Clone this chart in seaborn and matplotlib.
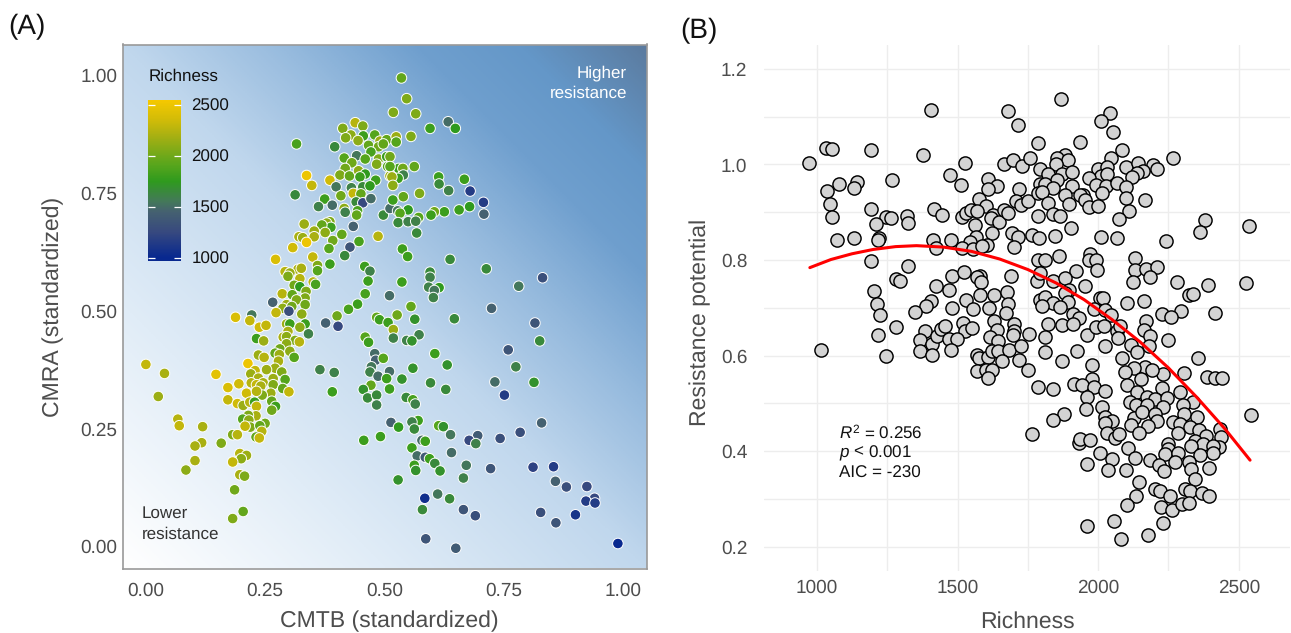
"""Two panel figure: resistance space coloured by richness, and resistance vs richness."""
import matplotlib
matplotlib.use("Agg")
import matplotlib.pyplot as plt
import seaborn as sns
import numpy as np
import pandas as pd
from matplotlib.colors import LinearSegmentedColormap, Normalize
from matplotlib.cm import ScalarMappable
from matplotlib.ticker import MultipleLocator

# panel A, values
cmtb = [
    .439, .455, .413, .430, .419, .456, .480, .445, .491, .505, .316, .396, .467, .488, .498, .472, .442, .416, .460, .488,
    .505, .432, .484, .507, .418, .407, .427, .446, .460, .449, .337, .386, .348, .399, .431, .455, .482, .512, .470, .313,
    .435, .451, .409, .375, .362, .391, .441, .455, .472, .416, .418, .444, .442, .498, .512, .386, .332, .379, .388, .369,
    .435, .353, .376, .411, .321, .329, .353, .487, .392, .447, .337, .308, .384, .428, .417, .272, .350, .386, .360, .360,
    .459, .470, .292, .319, .326, .302, .298, .323, .466, .351, .356, .311, .323, .336, .460, .286, .307, .334, .511, .444,
    .266, .316, .295, .287, .306, .334, .425,
    .188, .222, .218, .273, .300, .327, .238, .252, .295, .302, .334, .323, .341, .298, .377, .401, .403, .232, .247, .288,
    .295, .313, .322, .295, .281, .302, .271, .236, .248, .311, .280, .278, .214, .271, .253, .229, .220, .285, .267, .292,
    .236, .221, .195, .246, .267, .172, .232, .241, .287, .300, .211, .262, .244, .232, .172, .192, .204, .218, .228, .232,
    .264, .272, .264, .250, .231, .215, .203, .216, .219, .208, .239, .243, .182, .192, .231, .238, .147, .039, .000, .026,
    .067, .070, .119, .117, .103, .158, .103, .084, .197, .211, .200, .182, .197, .207, .186, .204, .182, .365, .395, .391,
    .484, .490, .508, .460, .467, .480, .482, .498, .473, .470, .511, .487, .505, .472, .456, .511, .465, .484, .484, .514,
    .492, .457,
    .536, .547, .519, .566, .596, .634, .649, .525, .556, .525, .512, .563, .530, .539, .512, .540, .529, .516, .518, .614,
    .668, .615, .635, .680, .574, .540, .518, .708, .709, .679, .657, .626, .605, .598, .572, .550, .528, .533, .529, .550,
    .566, .568, .538, .549, .638, .714, .596, .596, .537, .593, .615, .605, .603, .782, .832, .556, .725,
    .527, .564, .647, .816, .519, .519, .573, .547, .558, .826, .760, .606, .632, .776, .560, .537, .597, .629, .732, .814,
    .752, .546, .560, .565, .571, .558, .530, .563, .614, .624, .639, .830, .696, .678, .692, .743, .785, .579, .586, .558,
    .641, .569, .586, .595, .606, .672, .723, .812, .855, .563, .566, .617, .666, .529, .859, .882, .925, .585, .612, .637,
    .941, .923, .942, .580, .666, .691, .828, .901, .860, .587, .650, .990,
]
cmra = [
    .899, .892, .887, .873, .867, .871, .873, .861, .860, .863, .854, .848, .851, .848, .854, .837, .829, .824, .822, .822,
    .827, .814, .811, .806, .802, .788, .786, .797, .790, .784, .787, .777, .766, .763, .761, .763, .777, .786, .765, .746,
    .749, .748, .744, .737, .721, .724, .731, .729, .738, .717, .709, .712, .703, .703, .717, .689, .684, .686, .677, .682,
    .679, .669, .666, .662, .657, .655, .657, .658, .649, .647, .645, .634, .632, .635, .617, .609, .614, .599, .596, .585,
    .594, .584, .583, .588, .590, .580, .573, .568, .563, .561, .556, .554, .551, .541, .536, .536, .534, .527, .532, .514,
    .518, .523, .513, .505, .509, .513, .503,
    .486, .491, .479, .496, .499, .493, .465, .469, .472, .472, .472, .465, .451, .456, .474, .489, .467, .441, .436, .444,
    .445, .437, .434, .430, .419, .414, .410, .406, .401, .401, .407, .393, .388, .378, .375, .373, .366, .370, .356, .354,
    .357, .347, .345, .347, .343, .337, .343, .340, .335, .328, .325, .325, .321, .329, .311, .303, .299, .306, .306, .297,
    .308, .297, .289, .261, .277, .278, .270, .268, .253, .255, .256, .244, .237, .237, .232, .230, .365, .367, .386, .318,
    .270, .256, .254, .220, .213, .219, .182, .162, .197, .193, .186, .179, .152, .149, .120, .074, .059, .375, .369, .328,
    .486, .481, .475, .444, .433, .409, .395, .399, .381, .370, .371, .361, .356, .342, .333, .334, .315, .321, .300, .263,
    .233, .225,
    .994, .950, .921, .918, .887, .901, .887, .869, .870, .858, .827, .806, .802, .802, .806, .788, .781, .784, .766, .784,
    .779, .769, .755, .754, .749, .742, .735, .730, .705, .721, .714, .710, .710, .703, .698, .714, .712, .707, .687, .689,
    .690, .665, .631, .615, .609, .589, .582, .571, .561, .550, .549, .543, .528, .552, .570, .509, .505,
    .491, .482, .483, .474, .460, .442, .449, .437, .436, .436, .417, .409, .385, .381, .378, .355, .347, .333, .349, .348,
    .321, .316, .311, .302, .267, .264, .253, .249, .256, .254, .237, .262, .235, .225, .218, .229, .242, .225, .223, .209,
    .199, .192, .189, .186, .176, .172, .165, .168, .169, .172, .161, .160, .145, .141, .138, .126, .127, .102, .111, .101,
    .102, .096, .092, .078, .078, .065, .072, .067, .050, .016, -.004, .006,
]
richness_a = [
    2250, 2050, 2050, 2100, 2050, 1800, 1900, 2100, 2150, 1950, 1850, 1650, 1950, 2000, 1950, 1850, 1550, 1900, 1900, 2050,
    1800, 2000, 2050, 1900, 2000, 2050, 1950, 2100, 1750, 1800, 2500, 2350, 2300, 1550, 1600, 1650, 1800, 2150, 1750, 1650,
    2300, 1950, 2000, 1800, 1600, 1500, 1650, 1250, 1500, 2100, 1600, 1850, 1950, 1650, 1500, 2050, 2150, 2100, 1800, 1950,
    1450, 2150, 2100, 1950, 2200, 2150, 2200, 2250, 2000, 1850, 2500, 2350, 1900, 1350, 1650, 2400, 2300, 1800, 2050, 1900,
    1800, 1600, 2250, 2200, 2200, 2150, 2050, 2250, 1800, 2250, 1850, 2000, 1750, 2050, 1850, 2250, 1950, 2050, 1500, 1800,
    1450, 2050, 2150, 2100, 2000, 2000, 1850,
    2400, 1550, 2300, 2300, 1300, 2100, 2350, 2300, 2150, 1800, 1800, 2100, 1600, 2200, 1450, 2000, 1250, 1800, 2150, 2200,
    2100, 2050, 2250, 2100, 2000, 2100, 1950, 2150, 2250, 1900, 2150, 2200, 2500, 2150, 2150, 2300, 2150, 2050, 2150, 1900,
    2200, 2250, 2350, 2200, 2050, 2400, 2300, 2200, 1950, 2300, 2350, 2150, 2050, 2250, 2300, 2350, 2150, 2250, 1800, 2300,
    1950, 1800, 2000, 2000, 2200, 2050, 1900, 2100, 2050, 2300, 1950, 2250, 2050, 2250, 1950, 2300, 2450, 2200, 2300, 2150,
    2250, 2300, 2200, 2200, 2200, 2050, 2200, 2100, 2250, 2150, 2100, 2300, 2200, 2050, 2000, 1950, 2050, 1600, 1600, 1800,
    1950, 1800, 1800, 1900, 1800, 1500, 1450, 1900, 1550, 1600, 1500, 1500, 1800, 1950, 1700, 1800, 1650, 1650, 1600, 1450,
    1800, 1800,
    1950, 2050, 2050, 2050, 1800, 1500, 1750, 2150, 2050, 1900, 2000, 1950, 1800, 2000, 1900, 1600, 1800, 2150, 2100, 1800,
    1800, 1650, 1600, 1150, 2050, 1950, 1800, 1150, 1450, 1750, 1800, 1800, 2000, 1800, 1900, 1750, 1550, 1900, 1650, 1600,
    1600, 1650, 1800, 1800, 1650, 1650, 1650, 1600, 1800, 1600, 1750, 1550, 1600, 1550, 1300, 1950, 1450,
    2000, 1700, 1650, 1350, 2150, 1600, 1600, 1600, 1700, 1650, 1350, 1800, 1700, 1600, 1700, 1700, 1650, 1650, 1500, 1700,
    1150, 1650, 1850, 1600, 1800, 1600, 1750, 1650, 1900, 1700, 1550, 1450, 1400, 1250, 1600, 1300, 1300, 1500, 1800, 1800,
    1500, 1500, 1400, 1800, 1650, 1550, 1350, 1200, 1150, 1800, 1700, 1700, 1600, 1700, 1450, 1300, 1250, 1050, 1550, 1650,
    1250, 1150, 1150, 1650, 1350, 1300, 1300, 1100, 1350, 1350, 1400, 1000,
]

# panel B, values
richness_b = [
    1404, 1680, 1715, 1787, 1032, 1052, 1191, 1376, 972, 1525, 1667, 1699, 1730, 1757, 1793, 1077, 1141, 1132, 1268, 1037,
    1475, 1514, 1608, 1642, 1608, 1717, 1793, 1047, 1053, 1194, 1575, 1602, 1709, 1726, 1751, 1787, 1417, 1446, 1321, 1324,
    1245, 1263, 1209, 1515, 1529, 1547, 1571, 1625, 1619, 1646, 1666, 1679, 1563, 1787, 1694, 1715, 1763, 1790, 1622, 1565,
    1222, 1218, 1132, 1070, 1414, 1476, 1543, 1606, 1700, 1422, 1515, 1556, 1588, 1787, 1194, 1324, 1280, 1297, 1481, 1523,
    1579, 1570, 1584, 1690, 1781, 1425, 1470, 1204, 1529, 1579, 1629, 1677, 1680, 1213, 1405, 1389, 1348, 1480, 1555, 1613,
    1672, 1224, 1793, 1520, 1629, 1700,
    1283, 1216, 1386, 1365, 1411, 1427, 1440, 1456, 1526, 1550, 1468, 1499, 1641, 1700, 1698, 1755, 1615, 1645, 1365, 1408,
    1476, 1014, 1244, 1568, 1577, 1610, 1621, 1645, 1683, 1724, 1659, 1720, 1749, 1568, 1603, 1621, 1607, 1787, 1763,
    1868, 2043, 2011, 2053, 1936, 2083, 2265, 2045, 1882, 1852, 1894, 1849, 1998, 2030, 2099, 2141, 2194, 2210, 2160, 2137,
    2119, 2010, 2032, 1823, 1870, 1906, 1852, 1966, 1811, 1908, 1994, 2028, 2068, 2098, 1840, 1799, 1882, 1947, 1935, 2012,
    2099, 2167, 1953, 1897, 1823, 1968, 2000, 2111, 1840, 1866, 2074, 2381, 2537, 2362, 1903, 1846, 2010, 2068, 2241, 1862,
    1971, 1966, 1992, 1997, 2131, 2130, 2171, 2208, 2186, 2125, 1811, 1793, 1838, 1921, 1882, 1953, 1897, 1881, 2280, 2389,
    2527, 2324, 2338, 2006, 2016, 2103, 2163, 1811, 1840, 1894, 1864, 1799, 1986, 2024, 2044, 1912, 1933, 2226, 2294, 2259,
    2414, 2170,
    1823, 1872, 1912, 1961, 1991, 2021, 2068, 2077, 2071, 1811, 2163, 2184, 2179, 2249, 2026, 1923, 1811, 2115, 2137, 2083,
    1872, 1979, 2356, 2306, 2388, 2415, 2439, 2229, 2166, 2190, 2128, 2095, 2152, 1977, 1915, 1943, 1985, 2024, 1838, 2101,
    2137, 2226, 2291, 1962, 2175, 2202, 2243, 2336, 2113, 2134, 2172, 2229, 2300, 2542, 1957, 2012, 1880, 1840, 2026, 2048,
    2024, 2127, 2157, 2201, 2210, 2305, 2350, 2115, 2176, 2145, 2265, 2291, 2326, 2359, 2433, 2030, 2060, 2073, 2285, 2382,
    2436, 2344, 2374, 2329, 2431, 2409, 2410, 2362, 1933, 1935, 1971, 2250, 2249, 2237, 2285, 2105, 2006, 2130, 2049, 2184,
    2216, 2274, 2322, 2235, 2329, 2034, 2100, 1960, 2395, 2346, 2146, 2202, 2220, 2254, 2310, 2326, 2368, 2394, 2133, 2103,
    2222, 2261, 2299, 2323, 2056, 1960, 2230, 2176, 2081,
]
resistance = [
    1.113, 1.112, 1.082, 1.044, 1.035, 1.033, 1.031, 1.019, 1.002, 1.004, 1.001, 1.009, .997, 1.013, .990, .960, .963, .951, .967, .944,
    .978, .957, .970, .954, .948, .949, .960, .917, .890, .907, .928, .912, .923, .915, .923, .941, .907, .894, .892, .878,
    .890, .887, .875, .889, .898, .905, .902, .894, .887, .880, .905, .898, .873, .893, .857, .848, .852, .845, .856, .849,
    .845, .841, .847, .841, .841, .841, .837, .832, .827, .826, .825, .823, .830, .800, .798, .788, .761, .756, .767, .774,
    .767, .765, .754, .767, .757, .746, .737, .736, .716, .727, .727, .734, .708, .708, .715, .704, .692, .700, .697, .700,
    .688, .685, .717, .668, .672, .665,
    .659, .644, .651, .633, .625, .640, .655, .661, .652, .658, .635, .635, .654, .651, .644, .646, .639, .630, .609, .602,
    .611, .611, .598, .602, .594, .596, .609, .609, .612, .619, .589, .591, .569, .568, .569, .569, .552, .534, .436,
    1.137, 1.107, 1.090, 1.068, 1.046, 1.030, 1.013, 1.014, 1.020, 1.013, 1.009, 1.001, .990, .995, .994, 1.004, .998, .991, .986, .982,
    .973, .975, .981, .981, .981, .985, .967, .971, .959, .955, .958, .954, .962, .953, .950, .943, .936, .936, .936, .941,
    .929, .926, .926, .917, .919, .910, .912, .903, .896, .892, .886, .884, .872, .859, .866, .851, .848, .845, .839, .809,
    .813, .800, .799, .779, .805, .779, .782, .786, .765, .754, .800, .772, .755, .777, .763, .745, .738, .731, .754, .748,
    .751, .727, .729, .720, .720, .710, .715, .722, .711, .712, .701, .704, .698, .696, .685, .687, .678, .687, .694, .681,
    .690, .672,
    .667, .664, .665, .642, .659, .661, .651, .662, .637, .638, .653, .640, .619, .633, .619, .609, .607, .623, .607, .595,
    .589, .581, .594, .564, .556, .553, .552, .561, .575, .569, .574, .565, .550, .550, .540, .538, .534, .525, .529, .539,
    .524, .532, .523, .514, .513, .509, .511, .503, .503, .497, .497, .492, .497, .476, .489, .492, .477, .465, .472, .464,
    .458, .470, .481, .477, .464, .477, .472, .454, .452, .438, .461, .456, .450, .444, .447, .438, .428, .436, .438, .431,
    .429, .422, .415, .410, .409, .410, .395, .391, .416, .426, .423, .414, .404, .393, .397, .406, .395, .386, .383, .382,
    .371, .378, .378, .358, .363, .360, .360, .374, .364, .342, .336, .320, .317, .307, .320, .317, .313, .305, .307, .287,
    .282, .277, .289, .292, .254, .243, .250, .225, .216,
]

# fitted curve
curve_x = [975, 1050, 1125, 1200, 1280, 1354, 1450, 1550, 1650, 1750, 1850, 1950, 2050, 2150, 2250, 2350, 2450, 2540]
curve_y = [.784, .801, .813, .822, .828, .830, .827, .818, .802, .780, .752, .717, .675, .628, .574, .513, .447, .381]

WIDTH, HEIGHT = 1291, 633
GREY = "#4D4D4D"

sns.set_theme(style="white")
plt.rcParams["font.family"] = ["Liberation Sans", "DejaVu Sans"]
plt.rcParams["text.hinting"] = "no_hinting"
plt.rcParams["text.hinting_factor"] = 1
plt.rcParams["mathtext.fontset"] = "custom"
plt.rcParams["mathtext.rm"] = "Liberation Sans"
plt.rcParams["mathtext.it"] = "Liberation Sans:italic"


def box(left, top, right, bottom):
    return [left / WIDTH, 1 - bottom / HEIGHT, (right - left) / WIDTH, (bottom - top) / HEIGHT]


rich_norm = Normalize(971, 2549)
rich_stops = [(1000, "#08288F"), (1250, "#37497F"), (1450, "#456170"), (1550, "#44785A"), (1750, "#2F9A1E"),
              (1900, "#55A51C"), (2000, "#6FA81A"), (2200, "#A8B012"), (2350, "#D0BB08"), (2549, "#F5C800")]
rich_cmap = LinearSegmentedColormap.from_list(
    "richness", [(0, rich_stops[0][1])] + [(float(rich_norm(v)), c) for v, c in rich_stops])
back_cmap = LinearSegmentedColormap.from_list(
    "back", [(0, "#FFFFFF"), (.25, "#E0ECF7"), (.5, "#C0D7ED"), (.65, "#97BBDE"), (.78, "#6F9FCE"), (.88, "#6497C8"),
             (1, "#5B7B9F")])

fig = plt.figure(figsize=(WIDTH / 100, HEIGHT / 100), dpi=100)

# panel A
ax_a = fig.add_axes(box(123, 44.5, 646.5, 568.5))
xlim_a = (-.048, 1.05)
ylim_a = (-.047, 1.065)
ramp = np.linspace(0, 1, 300)
ax_a.imshow((ramp[None, :] + ramp[:, None]) / 2, cmap=back_cmap, vmin=0, vmax=1, origin="lower", aspect="auto",
            extent=[*xlim_a, *ylim_a], zorder=0)
df_a = pd.DataFrame({"cmtb": cmtb, "cmra": cmra, "richness": richness_a})
sns.scatterplot(data=df_a, x="cmtb", y="cmra", hue="richness", hue_norm=rich_norm, palette=rich_cmap, s=58,
                edgecolor="white", linewidth=.7, legend=False, ax=ax_a, zorder=3)
ax_a.set_xlim(xlim_a)
ax_a.set_ylim(ylim_a)
ax_a.set_xticks([0, .25, .5, .75, 1])
ax_a.set_xticklabels(["0.00", "0.25", "0.50", "0.75", "1.00"])
ax_a.set_yticks([0, .25, .5, .75, 1])
ax_a.set_yticklabels(["0.00", "0.25", "0.50", "0.75", "1.00"])
ax_a.tick_params(axis="x", labelsize=14, labelcolor=GREY, length=0, pad=10)
ax_a.tick_params(axis="y", labelsize=14, labelcolor=GREY, length=0, pad=4)
ax_a.set_xlabel("CMTB (standardized)", fontsize=16.6, color=GREY)
ax_a.set_ylabel("CMRA (standardized)", fontsize=16.6, color=GREY)
ax_a.xaxis.set_label_coords(389 / WIDTH, 1 - 611 / HEIGHT, transform=fig.transFigure)
ax_a.yaxis.set_label_coords(64 / WIDTH, 1 - 307 / HEIGHT, transform=fig.transFigure)
for spine in ax_a.spines.values():
    spine.set_color("#999999")
    spine.set_linewidth(1.2)
fig.text(627 / WIDTH, 1 - 83 / HEIGHT, "Higher\nresistance", color="white", fontsize=12.5, ha="right", va="center",
         linespacing=1.4)
fig.text(142 / WIDTH, 1 - 524 / HEIGHT, "Lower\nresistance", color="#333333", fontsize=12.5, ha="left", va="center",
         linespacing=1.45)

# richness colour bar inside panel A
cax = fig.add_axes(box(148, 100, 180.5, 260.5))
cbar = fig.colorbar(ScalarMappable(norm=rich_norm, cmap=rich_cmap), cax=cax)
cbar.set_ticks([1000, 1500, 2000, 2500])
cbar.outline.set_visible(False)
cax.minorticks_off()
cax.set_axisbelow(False)
cax.tick_params(axis="y", which="major", left=True, right=True, labelleft=False, labelright=True, direction="in",
                length=5, width=.9, color="white", labelcolor="#111111", labelsize=12.3, pad=8)
fig.text(149 / WIDTH, 1 - 76 / HEIGHT, "Richness", color="#111111", fontsize=12.3, ha="left", va="center")

# panel B
ax_b = fig.add_axes(box(764, 45, 1290, 571))
df_b = pd.DataFrame({"richness": richness_b, "resistance": resistance})
sns.scatterplot(data=df_b, x="richness", y="resistance", color="#D3D3D3", s=90, edgecolor="black", linewidth=1.05,
                legend=False, ax=ax_b, zorder=3)
sns.lineplot(x=curve_x, y=curve_y, color="red", linewidth=2.2, sort=False, ax=ax_b, zorder=4)
ax_b.set_xlim(812, 2682)
ax_b.set_ylim(.149, 1.250)
ax_b.xaxis.set_major_locator(MultipleLocator(500))
ax_b.xaxis.set_minor_locator(MultipleLocator(250))
ax_b.yaxis.set_major_locator(MultipleLocator(.2))
ax_b.yaxis.set_minor_locator(MultipleLocator(.1))
ax_b.grid(which="both", color="#EDEDED", linewidth=1.0, zorder=0)
ax_b.set_axisbelow(True)
ax_b.tick_params(axis="x", which="both", labelsize=14, labelcolor=GREY, length=0, pad=6)
ax_b.tick_params(axis="y", which="both", labelsize=14, labelcolor=GREY, length=0, pad=12)
ax_b.set_xlabel("Richness", fontsize=16.6, color=GREY)
ax_b.set_ylabel("Resistance potential", fontsize=16.6, color=GREY)
ax_b.xaxis.set_label_coords(1027 / WIDTH, 1 - 611 / HEIGHT, transform=fig.transFigure)
ax_b.yaxis.set_label_coords(711 / WIDTH, 1 - 322 / HEIGHT, transform=fig.transFigure)
sns.despine(ax=ax_b, left=True, bottom=True)
ax_b.text(1078, .439, r"$\mathit{R}^{2}$ = 0.256", fontsize=12.3, color="#111111", va="center")
ax_b.text(1078, .395, r"$\mathit{p}$ < 0.001", fontsize=12.3, color="#111111", va="center")
ax_b.text(1078, .353, "AIC = -230", fontsize=12.3, color="#111111", va="center")

fig.text(8 / WIDTH, 1 - 27 / HEIGHT, "(A)", fontsize=20, color="#111111", ha="left", va="center")
fig.text(680 / WIDTH, 1 - 31 / HEIGHT, "(B)", fontsize=20, color="#111111", ha="left", va="center")

fig.savefig("out.png", dpi=100)
plt.close(fig)
